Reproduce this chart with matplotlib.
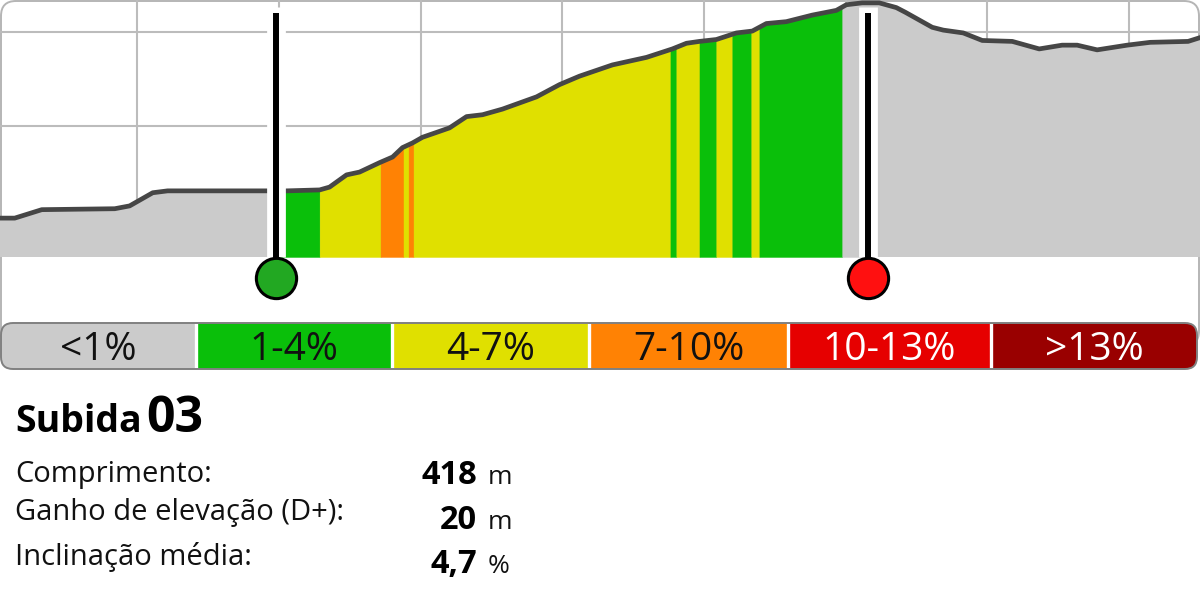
import numpy as np
import matplotlib
matplotlib.use('Agg')
import matplotlib.pyplot as plt
from matplotlib.patches import FancyBboxPatch, Rectangle

plt.rcParams['font.family'] = ['Open Sans', 'DejaVu Sans']

# elevation profile: distance (m) / elevation (m)
dist = [0, 13.4, 32.5, 84.0, 94.5, 110.8, 121.3, 191.9, 205.3, 228.6, 235.6, 247.6,
        256.8, 270.9, 280.1, 287.1, 294.2, 301.2, 320.3, 332.3, 343.6, 357.7, 381.7,
        397.9, 412.0, 435.3, 459.3, 477.6, 487.5, 496.7, 508.6, 522.8, 534.0, 543.9,
        558.0, 576.4, 593.3, 600.4, 611.6, 623.6, 635.6, 642.0, 661.0, 668.8, 682.9,
        696.3, 717.5, 736.5, 752.7, 763.3, 777.4, 798.6, 814.8, 841.6, 850]
elev = [120.2, 120.2, 121.1, 121.2, 121.5, 122.9, 123.1, 123.1, 123.1, 123.2, 123.5, 124.8,
        125.1, 126.1, 126.7, 127.7, 128.2, 128.8, 129.8, 131.0, 131.2, 131.8, 133.1,
        134.4, 135.3, 136.5, 137.3, 138.2, 138.8, 139.0, 139.2, 139.9, 140.1, 140.9,
        141.1, 141.8, 142.3, 142.9, 143.1, 143.1, 142.6, 142.1, 140.5, 140.2, 139.9,
        139.1, 139.0, 138.2, 138.6, 138.6, 138.1, 138.6, 138.9, 139.0, 139.4]

climb_start = 197.5
climb_end = 615.5

# gradient class of each stretch of the climb (index into the legend)
seg_edges = [197.5, 228.6, 271.6, 287.8, 291.4, 294.9, 476.2, 480.4, 496.7, 508.6,
             519.9, 533.3, 539.0, 597.5, 615.5]
seg_class = [1, 2, 3, 2, 3, 2, 1, 2, 1, 2, 1, 2, 1, 0]

grade_labels = ['<1%', '1-4%', '4-7%', '7-10%', '10-13%', '>13%']
grade_colors = ['#cbcbcb', '#0abf0a', '#e0e000', '#ff8204', '#e60000', '#990000']
label_colors = ['#111111', '#111111', '#111111', '#111111', 'white', 'white']

title_word = 'Subida'
title_num = '03'
stat_names = ['Comprimento:', 'Ganho de elevação (D+):', 'Inclinação média:']
stat_values = ['418', '20', '4,7']
stat_units = ['m', 'm', '%']


def y_at(py):
    # elevation shown at a given pixel row of the profile box
    return 140 - (py - 32) / 9.4


fig = plt.figure(figsize=(12, 6), dpi=100)

# layout layer in pixel units (frame, legend bar, texts)
lay = fig.add_axes([0, 0, 1, 1], zorder=0)
lay.set_xlim(0, 1200)
lay.set_ylim(600, 0)
lay.axis('off')

ax = fig.add_axes([0, 1 - 310 / 600, 1, 310 / 600], zorder=1)
ax.patch.set_visible(False)
ax.set_xlim(3, 850)
ax.set_ylim(y_at(310), y_at(0))
ax.axis('off')
base = y_at(257)

# frame with rounded top corners
lay.add_patch(FancyBboxPatch((1, 1), 1198, 345, boxstyle='round,pad=0,rounding_size=15',
                             fc='none', ec='#b5b5b5', lw=1.4, zorder=1))

# grid
ax.vlines(np.arange(0, 900, 100), base, y_at(0), color='#bcbcbc', lw=1.5, zorder=1)
ax.hlines([120, 130, 140], 0, 850, color='#bcbcbc', lw=1.5, zorder=1)

# terrain
ax.fill_between(dist, elev, base, color=grade_colors[0], lw=0, zorder=2)
for a, b, c in zip(seg_edges[:-1], seg_edges[1:], seg_class):
    xs = [a] + [d for d in dist if a < d < b] + [b]
    ys = np.interp(xs, dist, elev)
    ax.fill_between(xs, ys, base, color=grade_colors[c], ec=grade_colors[c], lw=0.3, zorder=3)
ax.plot(dist, elev, color='#464646', lw=3.4, solid_joinstyle='round', zorder=4)

# start / end markers
ax.vlines([climb_start, climb_end], base, y_at(7), color='white', lw=13.5,
          capstyle='butt', zorder=5)
ax.vlines([climb_start, climb_end], y_at(278), y_at(13), color='black', lw=4.3,
          capstyle='butt', zorder=6)
ax.plot([climb_start], [y_at(278)], 'o', ms=29, mfc='#22a822', mec='black', mew=2.2,
        clip_on=False, zorder=7)
ax.plot([climb_end], [y_at(278)], 'o', ms=29, mfc='#ff1010', mec='black', mew=2.2,
        clip_on=False, zorder=7)

# gradient legend bar
bar_edges = [1, 196, 391.5, 589, 788, 991, 1197]
bar = FancyBboxPatch((1, 323), 1196, 46, boxstyle='round,pad=0,rounding_size=12',
                     fc='none', ec='#808080', lw=1.4, zorder=4)
lay.add_patch(bar)
for i, (lab, col, tc) in enumerate(zip(grade_labels, grade_colors, label_colors)):
    x0, x1 = bar_edges[i], bar_edges[i + 1]
    r = Rectangle((x0, 323), x1 - x0, 46, fc=col, ec='none', zorder=2)
    lay.add_patch(r)
    r.set_clip_path(bar)
    lay.text((x0 + x1) / 2, 360, lab, ha='center', va='baseline', fontsize=28,
             color=tc, zorder=5)
lay.vlines(bar_edges[1:-1], 323, 369, color='white', lw=2.4, zorder=3)

# climb summary
lay.text(15, 432, title_word, fontsize=27, fontweight='bold', va='baseline')
lay.text(146, 432, title_num, fontsize=36, fontweight='bold', va='baseline')
for name, val, unit, yl, yv in zip(stat_names, stat_values, stat_units,
                                   [482, 520, 565], [484, 529, 573]):
    lay.text(15, yl, name, fontsize=21, va='baseline', color='#111111')
    lay.text(477, yv, val, fontsize=23.5, fontweight='bold', ha='right', va='baseline')
    lay.text(488, yv, unit, fontsize=19, va='baseline', color='#111111')

fig.savefig('out.png', dpi=100)
